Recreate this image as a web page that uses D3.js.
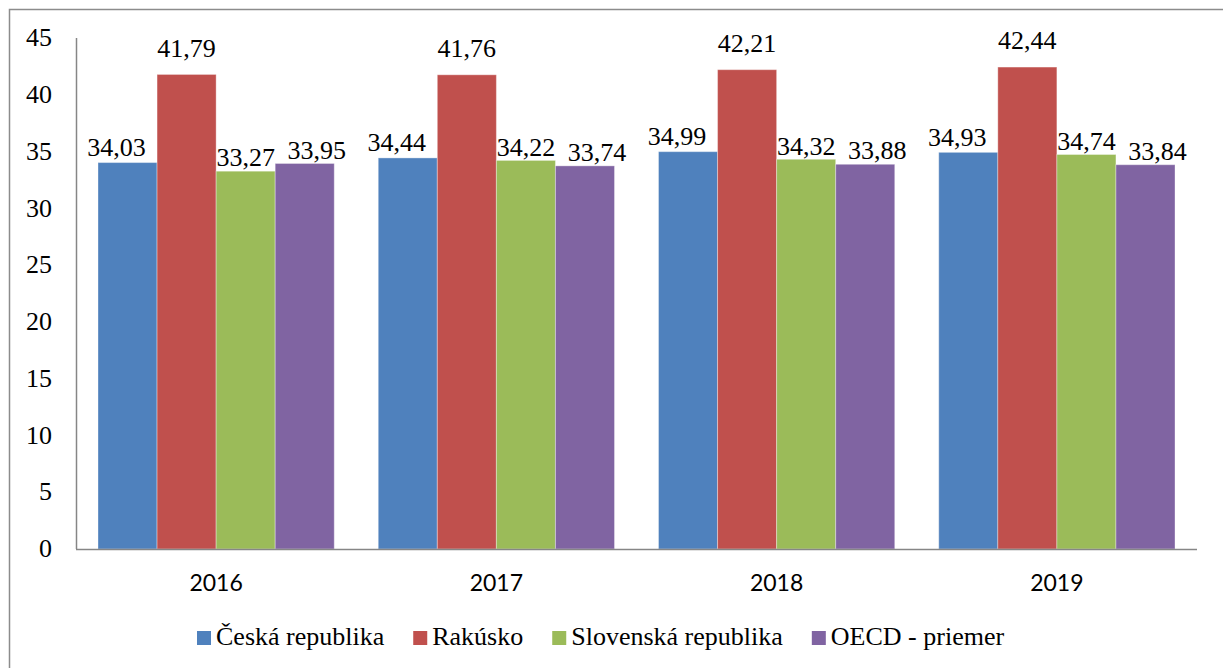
<!DOCTYPE html>
<html>
<head>
<meta charset="utf-8">
<script src="https://cdn.jsdelivr.net/npm/d3@7"></script>
<style>
  body { margin: 0; background: #fff; }
  #wrap { position: relative; width: 1223px; height: 668px; }
  #wrap svg { position: absolute; left: 0; top: 0; display: block; }
  .lbl { position: absolute; white-space: nowrap; line-height: 0; color: #000; }
  .serif { font-family: 'Liberation Serif', serif; font-size: 26px; }
  .sans { font-family: Lato, sans-serif; font-size: 23px; }
</style>
</head>
<body>
<div id="wrap"></div>
<script>
//data
const years = ["2016", "2017", "2018", "2019"]
const seriesNames = ["Česká republika", "Rakúsko", "Slovenská republika", "OECD - priemer"]
const cesko = [34.03, 34.44, 34.99, 34.93]
const rakusko = [41.79, 41.76, 42.21, 42.44]
const slovensko = [33.27, 34.22, 34.32, 34.74]
const oecd = [33.95, 33.74, 33.88, 33.84]
const yTicks = [0, 5, 10, 15, 20, 25, 30, 35, 40, 45]

const colors = ["#4F81BD", "#C0504D", "#9BBB59", "#8064A2"]
//label nudges per series (excel moved them apart a bit)
const labelDx = [-11, 0, 0, 12]
const labelGap = [6, 17, 4, 4]
//line-height 0 puts the baseline this far below the box top
const serifBase = 0.3375 * 26
const sansBase = 0.387 * 23

let width = 1223, height = 668
let wrap = d3.select("#wrap")
let svg = wrap.append("svg").attr("width", width).attr("height", height)

//text is html so it gets the real fonts
const label = (cls, x, y, txt, anchor) => {
  let shift = anchor == "middle" ? "-50%" : anchor == "end" ? "-100%" : "0"
  let base = cls == "serif" ? serifBase : sansBase
  return wrap.append("div").attr("class", "lbl " + cls)
    .style("left", x + "px").style("top", (y - base) + "px")
    .style("transform", `translateX(${shift})`)
    .text(txt)
}

//outer frame
svg.append("path")
  .attr("d", `M9.5,${height} V9.5 H${width}`)
  .attr("fill", "none").attr("stroke", "#8c8c8c").attr("stroke-width", 1.5)

const plot = { left: 76, right: 1197, top: 38, bottom: 549 }

let y = d3.scaleLinear().domain([0, 45]).range([plot.bottom, plot.top])
let x0 = d3.scaleBand().domain(years).range([plot.left, plot.right])
  .paddingInner(0.157).paddingOuter(0.0785)
let x1 = d3.scaleBand().domain(d3.range(4)).range([0, x0.bandwidth()])

let rows = years.map((yr, i) => ({
  year: yr,
  vals: [cesko[i], rakusko[i], slovensko[i], oecd[i]]
}))

let groups = svg.selectAll("g.year").data(rows).enter().append("g")
  .attr("class", "year")
  .attr("transform", d => `translate(${x0(d.year)},0)`)

groups.selectAll("rect").data(d => d.vals).enter().append("rect")
  .attr("x", (d, i) => x1(i))
  .attr("y", d => y(d))
  .attr("width", x1.bandwidth())
  .attr("height", d => y(0) - y(d))
  .attr("fill", (d, i) => colors[i])
  .attr("stroke", "rgba(255,255,255,0.35)").attr("stroke-width", 1)

//value labels
rows.forEach(r => {
  r.vals.forEach((v, i) => {
    label("serif", x0(r.year) + x1(i) + x1.bandwidth() / 2 + labelDx[i], y(v) - labelGap[i],
      v.toFixed(2).replace(".", ","), "middle")
  })
})

//axes
svg.append("line")
  .attr("x1", plot.left + 0.5).attr("x2", plot.left + 0.5)
  .attr("y1", plot.top).attr("y2", plot.bottom)
  .attr("stroke", "#868686").attr("stroke-width", 1.5)
svg.append("line")
  .attr("x1", plot.left).attr("x2", plot.right)
  .attr("y1", plot.bottom + 0.5).attr("y2", plot.bottom + 0.5)
  .attr("stroke", "#868686").attr("stroke-width", 1.5)

yTicks.forEach(t => label("serif", 52, y(t) + 9, t, "end"))
years.forEach(yr => label("sans", x0(yr) + x0.bandwidth() / 2, 591, yr, "middle"))

//legend
let lx = 197
seriesNames.forEach((name, i) => {
  svg.append("rect").attr("x", lx).attr("y", 631).attr("width", 14).attr("height", 14).attr("fill", colors[i])
  let t = label("serif", lx + 19, 646, name, "start")
  lx += 19 + t.node().getBoundingClientRect().width + 29
})
</script>
</body>
</html>
